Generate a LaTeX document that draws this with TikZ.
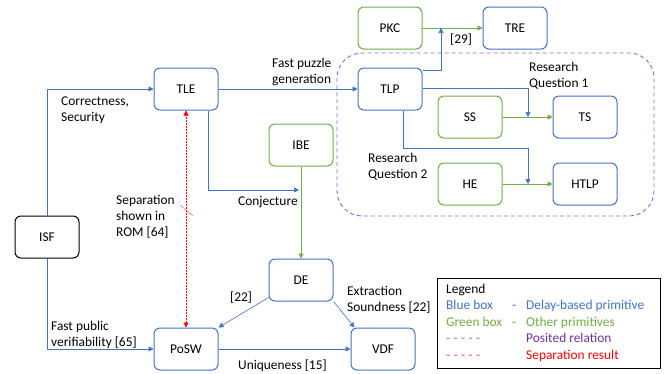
\documentclass[tikz,border=0pt]{standalone}
\usepackage{fontspec}
\setmainfont{Carlito}
\usetikzlibrary{arrows.meta, positioning}

\definecolor{boxblue}{HTML}{4472C4}
\definecolor{boxgreen}{HTML}{70AD47}
\definecolor{posited}{HTML}{7030A0}
\definecolor{positedline}{HTML}{9966CC}

\newcommand{\legdash}{-\hspace{3.4pt}-\hspace{3.4pt}-\hspace{3.4pt}-\hspace{3.4pt}-}

\begin{document}
\begin{tikzpicture}[
        x=1pt, y=-1pt,
        every node/.style={font=\fontsize{13.4}{16}\selectfont},
        prim/.style={draw, rounded corners=6pt, minimum width=64pt, minimum height=42pt, line width=1pt, fill=white},
        bluebox/.style={prim, draw=boxblue},
        greenbox/.style={prim, draw=boxgreen},
        blackbox/.style={prim, draw=black},
        tip/.style={-{Triangle[length=5pt, width=5pt]}},
        blueline/.style={tip, draw=boxblue, line width=0.6pt},
        greenline/.style={tip, draw=boxgreen, line width=0.6pt},
        sepline/.style={{Triangle[length=5pt, width=5pt]}-{Triangle[length=5pt, width=5pt]}, draw=red, line width=0.6pt, dash pattern=on 1.5pt off 1.5pt},
        lbl/.style={align=left, inner sep=0pt, anchor=north west},
        legtext/.style={anchor=west, inner sep=0pt, text height=9pt, text depth=2.5pt}
    ]
        \useasboundingbox (0,0) rectangle (665,373);

        % Posited relations
        \draw[positedline, line width=0.9pt, dash pattern=on 4pt off 3pt, rounded corners=25pt] (337,53) rectangle (654,216);

        % Primitives
        \node[bluebox] (TLE) at (186,89) {TLE};
        \node[blackbox] (ISF) at (47,237) {ISF};
        \node[bluebox] (PoSW) at (186,349) {PoSW};
        \node[greenbox] (IBE) at (301,145) {IBE};
        \node[bluebox] (DE) at (301,280) {DE};
        \node[bluebox] (VDF) at (383,349) {VDF};
        \node[greenbox] (PKC) at (390,28) {PKC};
        \node[bluebox] (TRE) at (515,28) {TRE};
        \node[bluebox] (TLP) at (390,89) {TLP};
        \node[greenbox] (SS) at (470,117) {SS};
        \node[bluebox] (TS) at (585,117) {TS};
        \node[greenbox] (HE) at (470,184) {HE};
        \node[bluebox] (HTLP) at (585,184) {HTLP};

        % Joints on the green lines
        \coordinate (cj) at (IBE |- 0,190);
        \coordinate (q29) at (441,28);
        \coordinate (rq1) at (528,117);
        \coordinate (rq2) at (528,184);

        % Green relations
        \draw[greenline] (IBE) -- (DE);
        \draw[greenline] (PKC) -- (TRE);
        \draw[greenline] (SS) -- (TS);
        \draw[greenline] (HE) -- (HTLP);

        % Blue relations
        \draw[blueline] (ISF.north) |- (TLE.west);
        \draw[blueline] (ISF.south) |- (PoSW.west);
        \draw[blueline] (TLE) -- (TLP);
        \draw[blueline] ([xshift=22pt]TLE.south) |- ([xshift=-2pt]cj);
        \draw[blueline] ([yshift=4pt]DE.south west) -- (PoSW.north east);
        \draw[blueline] (DE.south east) -- ([xshift=4pt]VDF.north west);
        \draw[blueline] (PoSW) -- (VDF);
        \draw[blueline] ([yshift=-3pt]TLP.north east) -| (q29);
        \draw[blueline] ([yshift=1pt]TLP.east) -| (rq1);
        \draw[blueline] ([xshift=13pt]TLP.south) -- ++(0,38) -| (rq2);

        % Separation result
        \draw[sepline] (PoSW.north) -- (TLE.south);
        \draw[red!70, line width=0.4pt] (180,205) -- (193,216);

        % Labels
        \node[lbl] (lcs) at (61,97) {Correctness,\\Security};
        \node[lbl] (lfpg) at (272,58) {Fast puzzle\\generation};
        \node[lbl] (lcj) at (238,196) {Conjecture};
        \node[lbl] (lsep) at (116,195) {Separation\\shown in\\ROM [64]};
        \node[lbl] (l22) at (230,292) {[22]};
        \node[lbl] (lfpv) at (51,321) {Fast public\\verifiability [65]};
        \node[lbl] (luni) at (238,360) {Uniqueness [15]};
        \node[lbl] (lext) at (347,286) {Extraction\\Soundness [22]};
        \node[lbl] (l29) at (450,34) {[29]};
        \node[lbl] (lrq1) at (529,62) {Research\\Question 1};
        \node[lbl] (lrq2) at (368,153) {Research\\Question 2};

        % Legend
        \node[draw=black, line width=0.8pt, minimum width=223pt, minimum height=90pt, inner sep=0pt] (legend) at (548.5,323) {};
        \node[legtext] (lg) at (446,290) {Legend};
        \node[legtext, text=boxblue] (lgb) at (446,306) {Blue box};
        \node[legtext, text=boxblue] at (512,306) {-};
        \node[legtext, text=boxblue] at (526,306) {Delay-based primitive};
        \node[legtext, text=boxgreen] (lgg) at (446,323) {Green box};
        \node[legtext, text=boxgreen] at (512,323) {-};
        \node[legtext, text=boxgreen] at (526,323) {Other primitives};
        \node[legtext, text=positedline] (lgp) at (446,339) {\legdash};
        \node[legtext, text=posited] at (526,339) {Posited relation};
        \node[legtext, text=red!70] (lgr) at (446,356) {\legdash};
        \node[legtext, text=red] at (526,356) {Separation result};
    \end{tikzpicture}
\end{document}
